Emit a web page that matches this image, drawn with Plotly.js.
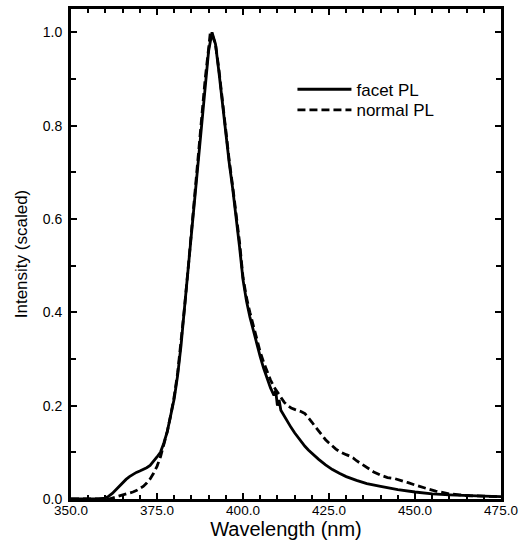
<!DOCTYPE html>
<html>
<head>
<meta charset="utf-8">
<script src="https://cdn.plot.ly/plotly-3.0.1.min.js"></script>
<style>html,body{margin:0;padding:0;background:#fff;}#chart{width:523px;height:541px;}</style>
</head>
<body>
<div id="chart"></div>
<script>
// Wavelength (nm) and scaled intensity
const facetWavelength = [350,355,358,360,361,362,363,364,365,366,367,368,369,370,371,372,373,374,375,376,377,378,379,380,381,382,383,384,385,386,387,388,389,390,391,392,393,394,395,396,397,398,399,400,401,402,403,404,405,406,407,408,409,409.5,410,410.5,411,412,413,414,415,416,417,418,419,420,422,424,426,428,430,433,436,440,445,450,455,460,465,470,475];
const facetIntensity  = [0,0,0,0.002,0.006,0.012,0.020,0.028,0.035,0.042,0.048,0.053,0.057,0.060,0.063,0.067,0.072,0.080,0.090,0.100,0.120,0.145,0.180,0.215,0.265,0.330,0.410,0.490,0.570,0.650,0.730,0.810,0.890,0.960,1.000,0.975,0.915,0.845,0.780,0.720,0.665,0.605,0.540,0.470,0.425,0.390,0.360,0.330,0.305,0.280,0.258,0.238,0.222,0.232,0.200,0.212,0.190,0.177,0.165,0.153,0.142,0.132,0.122,0.113,0.105,0.098,0.085,0.073,0.063,0.055,0.048,0.040,0.033,0.027,0.020,0.015,0.011,0.009,0.007,0.006,0.005];

const normalWavelength = [350,355,361,362,363,364,365,366,367,368,369,370,371,372,373,374,375,376,377,378,379,380,381,382,383,384,385,386,387,388,389,390,390.5,391,392,393,394,395,396,397,398,399,400,401,402,403,404,405,406,407,408,409,410,411,412,413,414,415,416,417,418,419,420,421,422,423,424,425,426,427,428,429,430,431,432,433,434,435,436,438,440,442,444,446,448,450,452,454,456,458,460,463,466,470,475];
const normalIntensity  = [0,0,0,0.002,0.004,0.006,0.008,0.010,0.012,0.015,0.018,0.022,0.027,0.034,0.043,0.055,0.070,0.090,0.115,0.145,0.180,0.220,0.270,0.335,0.410,0.490,0.575,0.660,0.745,0.825,0.900,0.965,1.000,0.995,0.975,0.920,0.850,0.785,0.725,0.670,0.610,0.550,0.475,0.432,0.400,0.370,0.340,0.315,0.293,0.273,0.255,0.240,0.228,0.217,0.207,0.200,0.195,0.192,0.190,0.187,0.183,0.175,0.165,0.155,0.145,0.135,0.127,0.120,0.113,0.107,0.102,0.098,0.095,0.092,0.088,0.082,0.077,0.072,0.067,0.058,0.051,0.046,0.044,0.040,0.035,0.030,0.025,0.021,0.017,0.014,0.011,0.009,0.007,0.006,0.005];

const seriesNames = ["facet PL", "normal PL"];

const font = "Liberation Sans, Arial, sans-serif";

const traces = [
  {x: facetWavelength, y: facetIntensity, name: seriesNames[0], type: "scatter", mode: "lines",
   line: {color: "#000", width: 2.8}, legend: "legend"},
  {x: normalWavelength, y: normalIntensity, name: seriesNames[1], type: "scatter", mode: "lines",
   line: {color: "#000", width: 2.8, dash: "8px,4px"}, legend: "legend2"}
];

const legendCommon = {xanchor: "left", yanchor: "top", bgcolor: "rgba(0,0,0,0)",
  font: {family: font, size: 17, color: "#000"}, itemwidth: 54, tracegroupgap: 0};

const layout = {
  width: 523, height: 541,
  margin: {l: 71, r: 22, t: 9, b: 42},
  paper_bgcolor: "#fff", plot_bgcolor: "#fff",
  font: {family: font, color: "#000", size: 14},
  showlegend: true,
  legend: Object.assign({x: 0.515, y: 0.872}, legendCommon),
  legend2: Object.assign({x: 0.515, y: 0.830}, legendCommon),
  xaxis: {
    range: [350, 475], tick0: 350, dtick: 25, tickformat: ".1f",
    ticks: "inside", ticklen: 6, tickwidth: 2, tickcolor: "#000",
    minor: {dtick: 5, ticks: "inside", ticklen: 4, tickwidth: 2, tickcolor: "#000", showgrid: false},
    showline: true, linecolor: "#000", linewidth: 3, mirror: "allticks",
    showgrid: false, zeroline: false, ticklabelstandoff: -3,
    tickfont: {family: font, size: 13.5, color: "#000"},
    title: {text: "Wavelength (nm)", font: {family: font, size: 20, color: "#000"}, standoff: 0}
  },
  yaxis: {
    range: [0, 1.05], tick0: 0, dtick: 0.2, tickformat: ".1f",
    ticks: "inside", ticklen: 6, tickwidth: 2, tickcolor: "#000",
    minor: {dtick: 0.1, ticks: "inside", ticklen: 5, tickwidth: 2, tickcolor: "#000", showgrid: false},
    showline: true, linecolor: "#000", linewidth: 3, mirror: "allticks",
    showgrid: false, zeroline: false, ticklabelstandoff: 3,
    tickfont: {family: font, size: 14, color: "#000"},
    title: {text: "Intensity (scaled)", font: {family: font, size: 17, color: "#000"}, standoff: 11}
  }
};

Plotly.newPlot("chart", traces, layout, {displayModeBar: false, staticPlot: true});
</script>
</body>
</html>
